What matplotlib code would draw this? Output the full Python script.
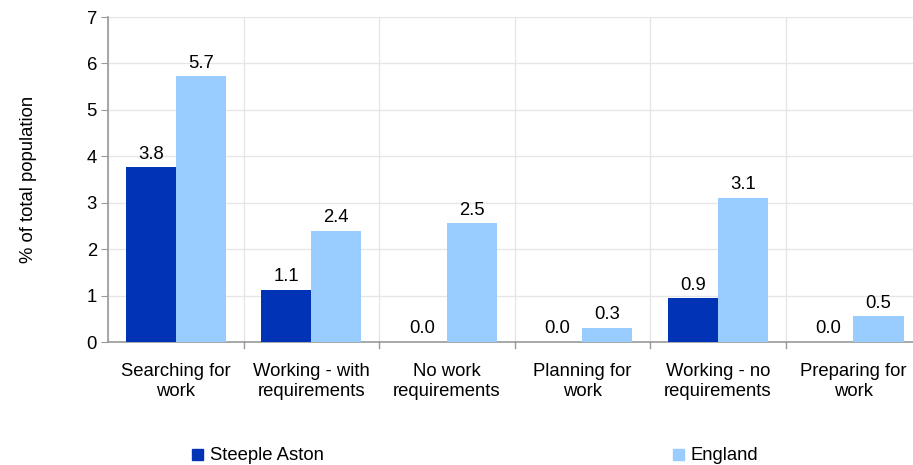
import numpy as np
import matplotlib
matplotlib.use('Agg')
from matplotlib import pyplot as plt

plt.rcParams['font.family'] = ['Liberation Sans', 'DejaVu Sans']

categories = ['Searching for\nwork', 'Working - with\nrequirements', 'No work\nrequirements',
              'Planning for\nwork', 'Working - no\nrequirements', 'Preparing for\nwork']
steeple = [3.76, 1.12, 0.0, 0.0, 0.94, 0.0]
england = [5.72, 2.39, 2.56, 0.3, 3.1, 0.55]
steeple_lbl = ['3.8', '1.1', '0.0', '0.0', '0.9', '0.0']
england_lbl = ['5.7', '2.4', '2.5', '0.3', '3.1', '0.5']

c1 = '#0033b5'
c2 = '#99ccff'
fs = 13.3

fig = plt.figure(figsize=(9.13, 4.65), dpi=100)
ax = fig.add_axes([108/913, (465-342)/465, (913-108)/913, 325/465])

x = np.arange(len(categories))
w = 0.37
ax.bar(x - w/2, steeple, w, color=c1, zorder=3)
ax.bar(x + w/2, england, w, color=c2, zorder=3)

for i in range(len(x)):
    ax.text(x[i] - w/2, steeple[i] + 0.1, steeple_lbl[i], ha='center', va='bottom', fontsize=fs)
    ax.text(x[i] + w/2, england[i] + 0.1, england_lbl[i], ha='center', va='bottom', fontsize=fs)

ax.set_ylim(0, 7)
ax.set_xlim(-0.5, 5.44)
ax.set_yticks(range(8))
ax.set_xticks(x)
ax.set_xticklabels(categories, fontsize=fs, linespacing=1.25)
ax.tick_params(axis='x', length=0, pad=15)
ax.tick_params(axis='y', labelsize=fs, length=5, color='#999999', pad=3)
for xb in np.arange(-0.5, 6, 1):
    ax.axvline(xb, color='#e6e6e6', lw=1, zorder=1)
    if xb > -0.5:
        ax.plot([xb, xb], [0, -0.12], color='#999999', lw=1, clip_on=False, zorder=4)
ax.yaxis.grid(True, color='#e6e6e6', lw=1, zorder=1)
ax.set_axisbelow(True)
for s in ['top', 'right']:
    ax.spines[s].set_visible(False)
ax.spines['left'].set_color('#999999')
ax.spines['bottom'].set_color('#999999')
ax.spines['left'].set_linewidth(1.2)
ax.spines['bottom'].set_linewidth(1.2)
ax.set_ylabel('% of total population', fontsize=fs, labelpad=36)

fig.text(210/913, 1 - 455/465, 'Steeple Aston', fontsize=fs, va='center')
fig.text(690/913, 1 - 455/465, 'England', fontsize=fs, va='center')
fig.patches.append(plt.Rectangle((192/913, 1 - 460/465), 11/913, 11/465,
                                 transform=fig.transFigure, color=c1, figure=fig))
fig.patches.append(plt.Rectangle((673/913, 1 - 460/465), 11/913, 11/465,
                                 transform=fig.transFigure, color=c2, figure=fig))

plt.savefig('out.png', dpi=100)
